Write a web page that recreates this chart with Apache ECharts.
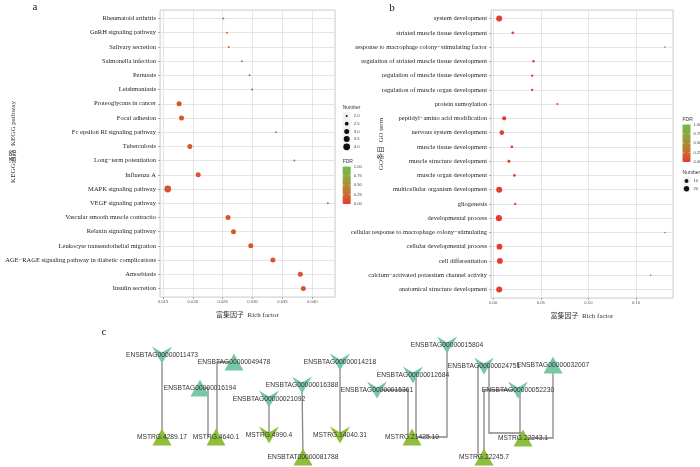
<!DOCTYPE html>
<html><head><meta charset="utf-8">
<script src="https://cdn.jsdelivr.net/npm/echarts@6/dist/echarts.min.js"></script>
<style>html,body{margin:0;padding:0;background:#fff}#c{width:700px;height:467px}</style>
</head><body><div id="c"></div>
<script>
// ---------- Panel a: KEGG ----------
const keggTerms = ["Rheumatoid arthritis","GnRH signaling pathway","Salivary secretion","Salmonella infection","Pertussis","Leishmaniasis","Proteoglycans in cancer","Focal adhesion","Fc epsilon RI signaling pathway","Tuberculosis","Long\u2212term potentiation","Influenza A","MAPK signaling pathway","VEGF signaling pathway","Vascular smooth muscle contractio","Relaxin signaling pathway","Leukocyte transendothelial migration","AGE\u2212RAGE signaling pathway in diabetic complications","Amoebiasis","Insulin secretion"];
const keggRich = [0.0251,0.0257,0.0260,0.0282,0.0295,0.0299,0.0177,0.0181,0.0339,0.0195,0.0370,0.0209,0.0158,0.0426,0.0259,0.0268,0.0297,0.0334,0.0380,0.0385];
const keggCount = [2,2,2,2,2,2,3,3,2,3,2,3,4,2,3,3,3,3,3,3];
const keggFDR = [0.22,0.22,0.22,0.22,0.22,0.22,0.15,0.15,0.22,0.15,0.22,0.15,0.14,0.22,0.15,0.15,0.15,0.15,0.15,0.15];
const keggTicks = [0.015,0.020,0.025,0.030,0.035,0.040];
const keggNumLegend = [2.0,2.5,3.0,3.5,4.0];

// ---------- Panel b: GO ----------
const goTerms = ["system development","striated muscle tissue development","response to macrophage colony\u2212stimulating factor","regulation of striated muscle tissue development","regulation of muscle tissue development","regulation of muscle organ development","protein sumoylation","peptidyl\u2212amino acid modification","nervous system development","muscle tissue development","muscle structure development","muscle organ development","multicellular organism development","gliogenesis","developmental process","cellular response to macrophage colony\u2212stimulating","cellular developmental process","cell differentiation","calcium\u2212activated potassium channel activity","anatomical structure development"];
const goRich = [0.0063,0.0206,0.1803,0.0422,0.0409,0.0409,0.0674,0.0115,0.0091,0.0196,0.0165,0.0223,0.0063,0.0231,0.0060,0.1803,0.0066,0.0070,0.1653,0.0063];
const goCount = [25,5,2,4,4,4,3,12,15,5,6,5,25,4,26,2,23,23,2,25];
const goFDR = [0.01,0.02,0.06,0.02,0.02,0.02,0.04,0.01,0.01,0.02,0.02,0.02,0.01,0.03,0.01,0.06,0.01,0.01,0.06,0.01];
const goTicks = [0.00,0.05,0.10,0.15];
const goNumLegend = [10,20];

const fdrLegendTicks = [1.00,0.75,0.50,0.25,0.00];

// ---------- Panel c: network ----------
const netNodes = [
  ["ENSBTAG00000011473","target","down"],
  ["ENSBTAG00000049478","target","up"],
  ["ENSBTAG00000016194","target","up"],
  ["ENSBTAG00000021092","target","down"],
  ["ENSBTAG00000016388","target","down"],
  ["ENSBTAG00000014218","target","down"],
  ["ENSBTAG00000015361","target","down"],
  ["ENSBTAG00000012684","target","down"],
  ["ENSBTAG00000015804","target","down"],
  ["ENSBTAG00000024751","target","down"],
  ["ENSBTAG00000032007","target","up"],
  ["ENSBTAG00000052230","target","down"],
  ["MSTRG.4289.17","lnc","up"],
  ["MSTRG.4640.1","lnc","up"],
  ["MSTRG.4990.4","lnc","down"],
  ["MSTRG.14040.31","lnc","down"],
  ["ENSBTAT00000081788","lnc","up"],
  ["MSTRG.21425.10","lnc","up"],
  ["MSTRG.22243.1","lnc","up"],
  ["MSTRG.22245.7","lnc","up"]
];
const netEdges = [
  ["ENSBTAG00000011473","MSTRG.4289.17"],
  ["ENSBTAG00000016194","MSTRG.4640.1"],
  ["ENSBTAG00000049478","MSTRG.4640.1"],
  ["ENSBTAG00000021092","MSTRG.4990.4"],
  ["ENSBTAG00000016388","ENSBTAT00000081788"],
  ["ENSBTAG00000014218","MSTRG.14040.31"],
  ["ENSBTAG00000015361","MSTRG.21425.10"],
  ["ENSBTAG00000012684","MSTRG.21425.10"],
  ["ENSBTAG00000015804","MSTRG.21425.10"],
  ["ENSBTAG00000024751","MSTRG.22245.7"],
  ["ENSBTAG00000052230","MSTRG.22245.7"],
  ["ENSBTAG00000024751","MSTRG.22243.1"],
  ["ENSBTAG00000052230","MSTRG.22243.1"],
  ["ENSBTAG00000032007","MSTRG.22243.1"]
];
// layout of the network (layout units of panel c)
const netLayout = {
  "ENSBTAG00000011473":[162,355],"ENSBTAG00000049478":[234,362],"ENSBTAG00000016194":[200,388],
  "ENSBTAG00000021092":[269,399],"ENSBTAG00000016388":[302,385],"ENSBTAG00000014218":[340,362],
  "ENSBTAG00000015361":[377,390],"ENSBTAG00000012684":[413,375],"ENSBTAG00000015804":[447,345],
  "ENSBTAG00000024751":[484,366],"ENSBTAG00000032007":[553,365],"ENSBTAG00000052230":[518,390],
  "MSTRG.4289.17":[162,437],"MSTRG.4640.1":[216,437],"MSTRG.4990.4":[269,435],"MSTRG.14040.31":[340,435],
  "ENSBTAT00000081788":[303,457],"MSTRG.21425.10":[412,437],"MSTRG.22243.1":[523,438],"MSTRG.22245.7":[484,457]
};
// orthogonal routing hints: [type, dx, dy]
const netRoutes = [["s",0,0],["hv",-8,0],["hv",1,0],["s",0,0],["s",0,0],["s",0,0],["hv",-4,0],["hv",4,0],["vh",0,0],["hv",-6,0],["hv",0,0],["vh",5,-5],["hv",-3,0],["vh",0,0]];

// ---------- helpers ----------
const fdrColors = ['#e8392d','#cc6a30','#aa8d36','#8ca940','#6fbb43'];
function sizeA(n){ return Math.max(2.0, Math.sqrt(1 + 35*(n-2)/2)*1.05 + 0.5); }
function sizeB(n){ return Math.sqrt(1 + 35*(n-2)/23)*0.9 + 0.6; }
const serif = "'Liberation Serif','Noto Sans CJK SC',serif";
const sans = "'Liberation Sans',Arial,sans-serif";

function routePoints(e, r){
  const s = netLayout[e[0]], t = netLayout[e[1]];
  if (r[0] === 's') return [s, t];
  if (r[0] === 'hv') return [s, [t[0]+r[1], s[1]], [t[0]+r[1], t[1]]];
  return [s, [s[0]+r[1], s[1]], [s[0]+r[1], t[1]+r[2]], [t[0], t[1]+r[2]]];
}

const keggData = keggTerms.map((t,i)=>[keggRich[i], i, keggCount[i], keggFDR[i]]);
const goData = goTerms.map((t,i)=>[goRich[i], i, goCount[i], goFDR[i]]);
const vShape = 'path://M0,0L10,6L20,0L10,17Z';
const nodeData = netNodes.map(n=>({
  name:n[0], value:netLayout[n[0]],
  symbol: n[2]==='up' ? 'triangle' : vShape,
  symbolSize: n[2]==='up' ? [19,17] : [20,17],
  itemStyle:{color: n[1]==='target' ? '#78c8a8' : '#8dbe3c'}
}));
const edgeData = netEdges.map((e,i)=>({coords: routePoints(e, netRoutes[i])}));

const gridLine = {show:true, lineStyle:{color:'#dedede', width:0.8, type:'solid'}};
function xAxisCfg(grid, min, max, step, dec){
  return {
    type:'value', gridIndex:grid, position:'bottom', min:min, max:max, minInterval:step, maxInterval:step, splitNumber:6,
    axisLine:{show:false, onZero:false}, axisTick:{show:true, length:2, lineStyle:{color:'#777', width:0.6}},
    axisLabel:{fontSize:4.2, color:'#555', margin:3, fontFamily:sans, showMinLabel:false, showMaxLabel:false,
      formatter:v=>v.toFixed(dec)},
    splitLine:gridLine,
    name:'富集因子  Rich factor', nameLocation:'middle', nameGap:15,
    nameTextStyle:{fontSize:7, color:'#333', fontFamily:serif}
  };
}
function yAxisCfg(grid, terms){
  return {
    type:'value', gridIndex:grid, position:'left', inverse:true, min:-0.6, max:terms.length-0.4, minInterval:1, maxInterval:1,
    axisLine:{show:false, onZero:false}, axisTick:{show:true, length:2, lineStyle:{color:'#777', width:0.6}},
    axisLabel:{fontSize:6.5, color:'#222', margin:4, fontFamily:serif, showMinLabel:false, showMaxLabel:false,
      formatter:v=>{const k=Math.round(v); return Math.abs(v-k)<1e-6 && terms[k]!==undefined ? terms[k] : '';}},
    splitLine:gridLine
  };
}

const grad = () => new echarts.graphic.LinearGradient(0,0,0,1, fdrColors.slice().reverse().map((c,i)=>({offset:i/4, color:c})));

function legendGraphics(x0, fdrTop, numTop, numVals, sizeFn, numStep, numFirst, dec){
  const g = [];
  g.push({type:'text', x:x0, y:fdrTop, style:{text:'FDR', font:'5px '+sans, fill:'#333', verticalAlign:'middle'}});
  const bt = fdrTop+5, bh = 37.5;
  g.push({type:'rect', shape:{x:x0, y:bt, width:8, height:bh}, style:{fill:grad()}});
  fdrLegendTicks.forEach((v)=>{
    const yy = bt + bh*(1-v);
    g.push({type:'text', x:x0+11, y:yy, style:{text:v.toFixed(2), font:'4.2px '+sans, fill:'#444', verticalAlign:'middle'}});
    g.push({type:'line', shape:{x1:x0, y1:yy, x2:x0+1.6, y2:yy}, style:{stroke:'#fff', lineWidth:0.5}});
    g.push({type:'line', shape:{x1:x0+6.4, y1:yy, x2:x0+8, y2:yy}, style:{stroke:'#fff', lineWidth:0.5}});
  });
  g.push({type:'text', x:x0, y:numTop, style:{text:'Number', font:'5px '+sans, fill:'#333', verticalAlign:'middle'}});
  g.push({type:'rect', shape:{x:x0, y:numTop+4, width:8, height:numStep*numVals.length}, style:{fill:'#f2f2f2'}});
  numVals.forEach((v,i)=>{
    const yy = numTop + numFirst + i*numStep;
    g.push({type:'circle', shape:{cx:x0+4, cy:yy, r:sizeFn(v)/2}, style:{fill:'#111'}});
    g.push({type:'text', x:x0+11, y:yy, style:{text:v.toFixed(dec), font:'4.2px '+sans, fill:'#444', verticalAlign:'middle'}});
  });
  return g;
}

const graphics = [
  {type:'text', x:35, y:7, style:{text:'a', font:'11px '+serif, fill:'#222', align:'center', verticalAlign:'middle'}},
  {type:'text', x:392, y:8, style:{text:'b', font:'11px '+serif, fill:'#222', align:'center', verticalAlign:'middle'}},
  {type:'text', x:104, y:332, style:{text:'c', font:'11px '+serif, fill:'#222', align:'center', verticalAlign:'middle'}},
  {type:'text', x:13, y:142, rotation:Math.PI/2, style:{text:'KEGG通路  KEGG pathway', font:'7px '+serif, fill:'#333', align:'center', verticalAlign:'middle'}},
  {type:'text', x:381, y:144, rotation:Math.PI/2, style:{text:'GO条目  GO term', font:'7px '+serif, fill:'#333', align:'center', verticalAlign:'middle'}}
].concat(
  legendGraphics(342.7, 161.5, 108, keggNumLegend, sizeA, 7.7, 8, 1),
  legendGraphics(682.5, 119.5, 172.5, goNumLegend, sizeB, 7.7, 8.5, 0)
);

const option = {
  backgroundColor:'#fff',
  animation:false,
  grid:[
    {left:160, top:10, width:175, height:287, show:true, borderColor:'#c4c4c4', borderWidth:0.8, backgroundColor:'#fff'},
    {left:491, top:10, width:182, height:288, show:true, borderColor:'#c4c4c4', borderWidth:0.8, backgroundColor:'#fff'},
    {left:100, top:330, width:500, height:137}
  ],
  xAxis:[
    xAxisCfg(0, 0.0145, 0.0438, 0.005, 3),
    xAxisCfg(1, -0.0023, 0.1888, 0.05, 2),
    {type:'value', gridIndex:2, min:100, max:600, show:false}
  ],
  yAxis:[
    yAxisCfg(0, keggTerms),
    yAxisCfg(1, goTerms),
    {type:'value', gridIndex:2, min:330, max:467, inverse:true, show:false}
  ],
  visualMap:[
    {type:'continuous', seriesIndex:0, dimension:3, min:0, max:1, show:false, inRange:{color:fdrColors}},
    {type:'continuous', seriesIndex:1, dimension:3, min:0, max:1, show:false, inRange:{color:fdrColors}}
  ],
  series:[
    {type:'scatter', xAxisIndex:0, yAxisIndex:0, data:keggData, symbolSize:v=>sizeA(v[2]), itemStyle:{opacity:1}},
    {type:'scatter', xAxisIndex:1, yAxisIndex:1, data:goData, symbolSize:v=>sizeB(v[2]), itemStyle:{opacity:1}},
    {type:'lines', coordinateSystem:'cartesian2d', xAxisIndex:2, yAxisIndex:2, polyline:true, silent:true,
      data:edgeData, lineStyle:{color:'#8c8484', width:1.3, opacity:1}, z:1},
    {type:'scatter', xAxisIndex:2, yAxisIndex:2, data:nodeData, z:3,
      itemStyle:{opacity:1},
      label:{show:true, position:'inside', formatter:p=>p.name, fontSize:6.7, color:'#333', fontFamily:sans}}
  ],
  graphic:graphics
};
const chart = echarts.init(document.getElementById('c'));
chart.setOption(option);
</script>
</body></html>
